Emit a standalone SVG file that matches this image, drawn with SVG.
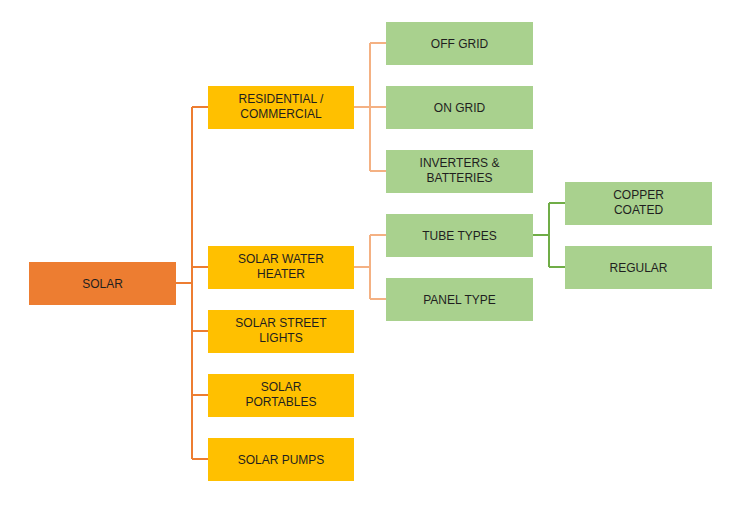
<svg xmlns="http://www.w3.org/2000/svg" width="738" height="511" viewBox="0 0 738 511">
<style>
text{font-family:"Liberation Sans",Arial,sans-serif;font-size:12px;fill:#1f1f1f;text-anchor:middle}
.root{fill:#ED7D31}
.l1{fill:#FFC000}
.l2{fill:#A9D18E}
.co{fill:none;stroke:#ED7D31;stroke-width:2}
.cs{fill:none;stroke:#F4B183;stroke-width:2}
.cg{fill:none;stroke:#70AD47;stroke-width:2}
</style>
<rect width="738" height="511" fill="#fff"/>
<g id="connectors">
<path class="co" d="M176 283H192M192 107V459M192 107H208M192 267H208M192 331H208M192 395H208M192 459H208"/>
<path class="cs" d="M354 107H370M370 43V171M370 43H386M370 107H386M370 171H386"/>
<path class="cs" d="M354 267H370M370 235V299M370 235H386M370 299H386"/>
<path class="cg" d="M533 235H549M549 203V267M549 203H565M549 267H565"/>
</g>
<g id="solar"><rect class="root" x="29" y="262" width="147" height="43"/><text x="102.5" y="287.5">SOLAR</text></g>
<g id="residential"><rect class="l1" x="208" y="86" width="146" height="43"/><text x="281" y="103">RESIDENTIAL /</text><text x="281" y="118">COMMERCIAL</text></g>
<g id="water-heater"><rect class="l1" x="208" y="246" width="146" height="43"/><text x="281" y="263">SOLAR WATER</text><text x="281" y="278">HEATER</text></g>
<g id="street-lights"><rect class="l1" x="208" y="310" width="146" height="43"/><text x="281" y="327">SOLAR STREET</text><text x="281" y="342">LIGHTS</text></g>
<g id="portables"><rect class="l1" x="208" y="374" width="146" height="43"/><text x="281" y="391">SOLAR</text><text x="281" y="406">PORTABLES</text></g>
<g id="pumps"><rect class="l1" x="208" y="438" width="146" height="43"/><text x="281" y="463.5">SOLAR PUMPS</text></g>
<g id="off-grid"><rect class="l2" x="386" y="22" width="147" height="43"/><text x="459.5" y="47.5">OFF GRID</text></g>
<g id="on-grid"><rect class="l2" x="386" y="86" width="147" height="43"/><text x="459.5" y="111.5">ON GRID</text></g>
<g id="inverters"><rect class="l2" x="386" y="150" width="147" height="43"/><text x="459.5" y="167">INVERTERS &amp;</text><text x="459.5" y="182">BATTERIES</text></g>
<g id="tube-types"><rect class="l2" x="386" y="214" width="147" height="43"/><text x="459.5" y="239.5">TUBE TYPES</text></g>
<g id="panel-type"><rect class="l2" x="386" y="278" width="147" height="43"/><text x="459.5" y="303.5">PANEL TYPE</text></g>
<g id="copper-coated"><rect class="l2" x="565" y="182" width="147" height="43"/><text x="638.5" y="199">COPPER</text><text x="638.5" y="214">COATED</text></g>
<g id="regular"><rect class="l2" x="565" y="246" width="147" height="43"/><text x="638.5" y="271.5">REGULAR</text></g>
</svg>
